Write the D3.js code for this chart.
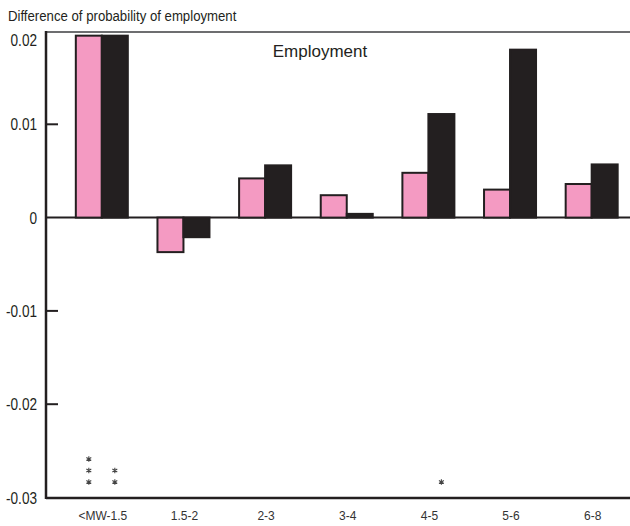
<!DOCTYPE html>
<html><head><meta charset="utf-8">
<script src="https://cdn.jsdelivr.net/npm/d3@7"></script>
<style>
body{margin:0;background:#fff;}
svg{display:block;}
text{font-family:"Liberation Sans",Arial,sans-serif;fill:#231f20;}
</style></head>
<body>
<svg id="chart" width="630" height="526"></svg>
<script>
const categories = ["<MW-1.5","1.5-2","2-3","3-4","4-5","5-6","6-8"];
const seriesNames = ["pink","black"];
const pinkValues  = [0.0195,-0.0037,0.0042,0.0024,0.0048,0.0030,0.0036];
const blackValues = [0.0195,-0.0021,0.0056,0.0004,0.0111,0.0180,0.0057];
const pinkStars  = [3,0,0,0,0,0,0];
const blackStars = [2,0,0,0,1,0,0];
const yTicks = [0.02,0.01,0,-0.01,-0.02,-0.03];
const yTickLabels = ["0.02","0.01","0","-0.01","-0.02","-0.03"];
const titleText = "Difference of probability of employment";
const panelText = "Employment";

(function(){
const svg = d3.select("#chart");
const axisX = 46, rightX = 630, topY = 32, bottomY = 498;
const y = d3.scaleLinear().domain([-0.03,0.02]).range([497.5,31]);
const x0 = d3.scaleBand().domain(categories).range([61,632.5]).padding(0);
const x1 = d3.scaleBand().domain(seriesNames).range([x0.bandwidth()/2-26, x0.bandwidth()/2+26]).padding(0);
const colors = {pink:"#f49ac2", black:"#231f20"};
const dark = "#231f20";

svg.append("text").attr("transform","translate(8,21) scale(0.88,1)").attr("font-size",15).text(titleText);
svg.append("text").attr("x",320).attr("y",57).attr("font-size",17).attr("text-anchor","middle").text(panelText);

svg.append("line").attr("x1",axisX).attr("x2",rightX).attr("y1",topY).attr("y2",topY)
  .attr("stroke","#6d6e70").attr("stroke-width",2);

svg.append("line").attr("x1",axisX).attr("x2",rightX).attr("y1",y(0)).attr("y2",y(0))
  .attr("stroke",dark).attr("stroke-width",2);

const data = categories.map((c,i)=>({cat:c, vals:[{s:"pink",v:pinkValues[i],st:pinkStars[i]},{s:"black",v:blackValues[i],st:blackStars[i]}]}));
const g = svg.append("g").selectAll("g").data(data).join("g")
  .attr("transform",d=>`translate(${x0(d.cat)},0)`);
g.selectAll("rect").data(d=>d.vals).join("rect")
  .attr("x",d=>x1(d.s))
  .attr("width",x1.bandwidth())
  .attr("y",d=>y(Math.max(0,d.v)))
  .attr("height",d=>Math.abs(y(d.v)-y(0)))
  .attr("fill",d=>colors[d.s])
  .attr("stroke",dark).attr("stroke-width",2);

const star = d3.symbol().type(d3.symbolAsterisk).size(22);
g.each(function(d){
  const gg = d3.select(this);
  d.vals.forEach(v=>{
    for(let k=0;k<v.st;k++){
      gg.append("path").attr("d",star)
        .attr("transform",`translate(${x1(v.s)+x1.bandwidth()/2},${y(-0.03)-15.5-k*11.5})`)
        .attr("fill","none").attr("stroke","#444").attr("stroke-width",1.1);
    }
  });
});

svg.append("line").attr("x1",axisX).attr("x2",axisX).attr("y1",topY-1).attr("y2",bottomY+1)
  .attr("stroke",dark).attr("stroke-width",2.5);
svg.append("line").attr("x1",axisX).attr("x2",rightX).attr("y1",bottomY).attr("y2",bottomY)
  .attr("stroke",dark).attr("stroke-width",2.5);

const innerTicks = yTicks.filter(t=>t!==0.02 && t!==0 && t!==-0.03);
svg.selectAll(".yt").data(innerTicks).join("line")
  .attr("x1",axisX).attr("x2",axisX+12).attr("y1",d=>y(d)).attr("y2",d=>y(d))
  .attr("stroke",dark).attr("stroke-width",2);

svg.selectAll(".yl").data(yTicks).join("text")
  .attr("transform",(d,i)=>`translate(37,${i===0 ? y(d)+15 : y(d)+6}) scale(0.85,1)`)
  .attr("text-anchor","end").attr("font-size",16).text((d,i)=>yTickLabels[i]);

svg.selectAll(".xl").data(categories).join("text")
  .attr("x",d=>x0(d)+x0.bandwidth()/2+1).attr("y",520)
  .attr("text-anchor","middle").attr("font-size",12)
  .style("fill","#333").text(d=>d);
})();
</script>
</body></html>
